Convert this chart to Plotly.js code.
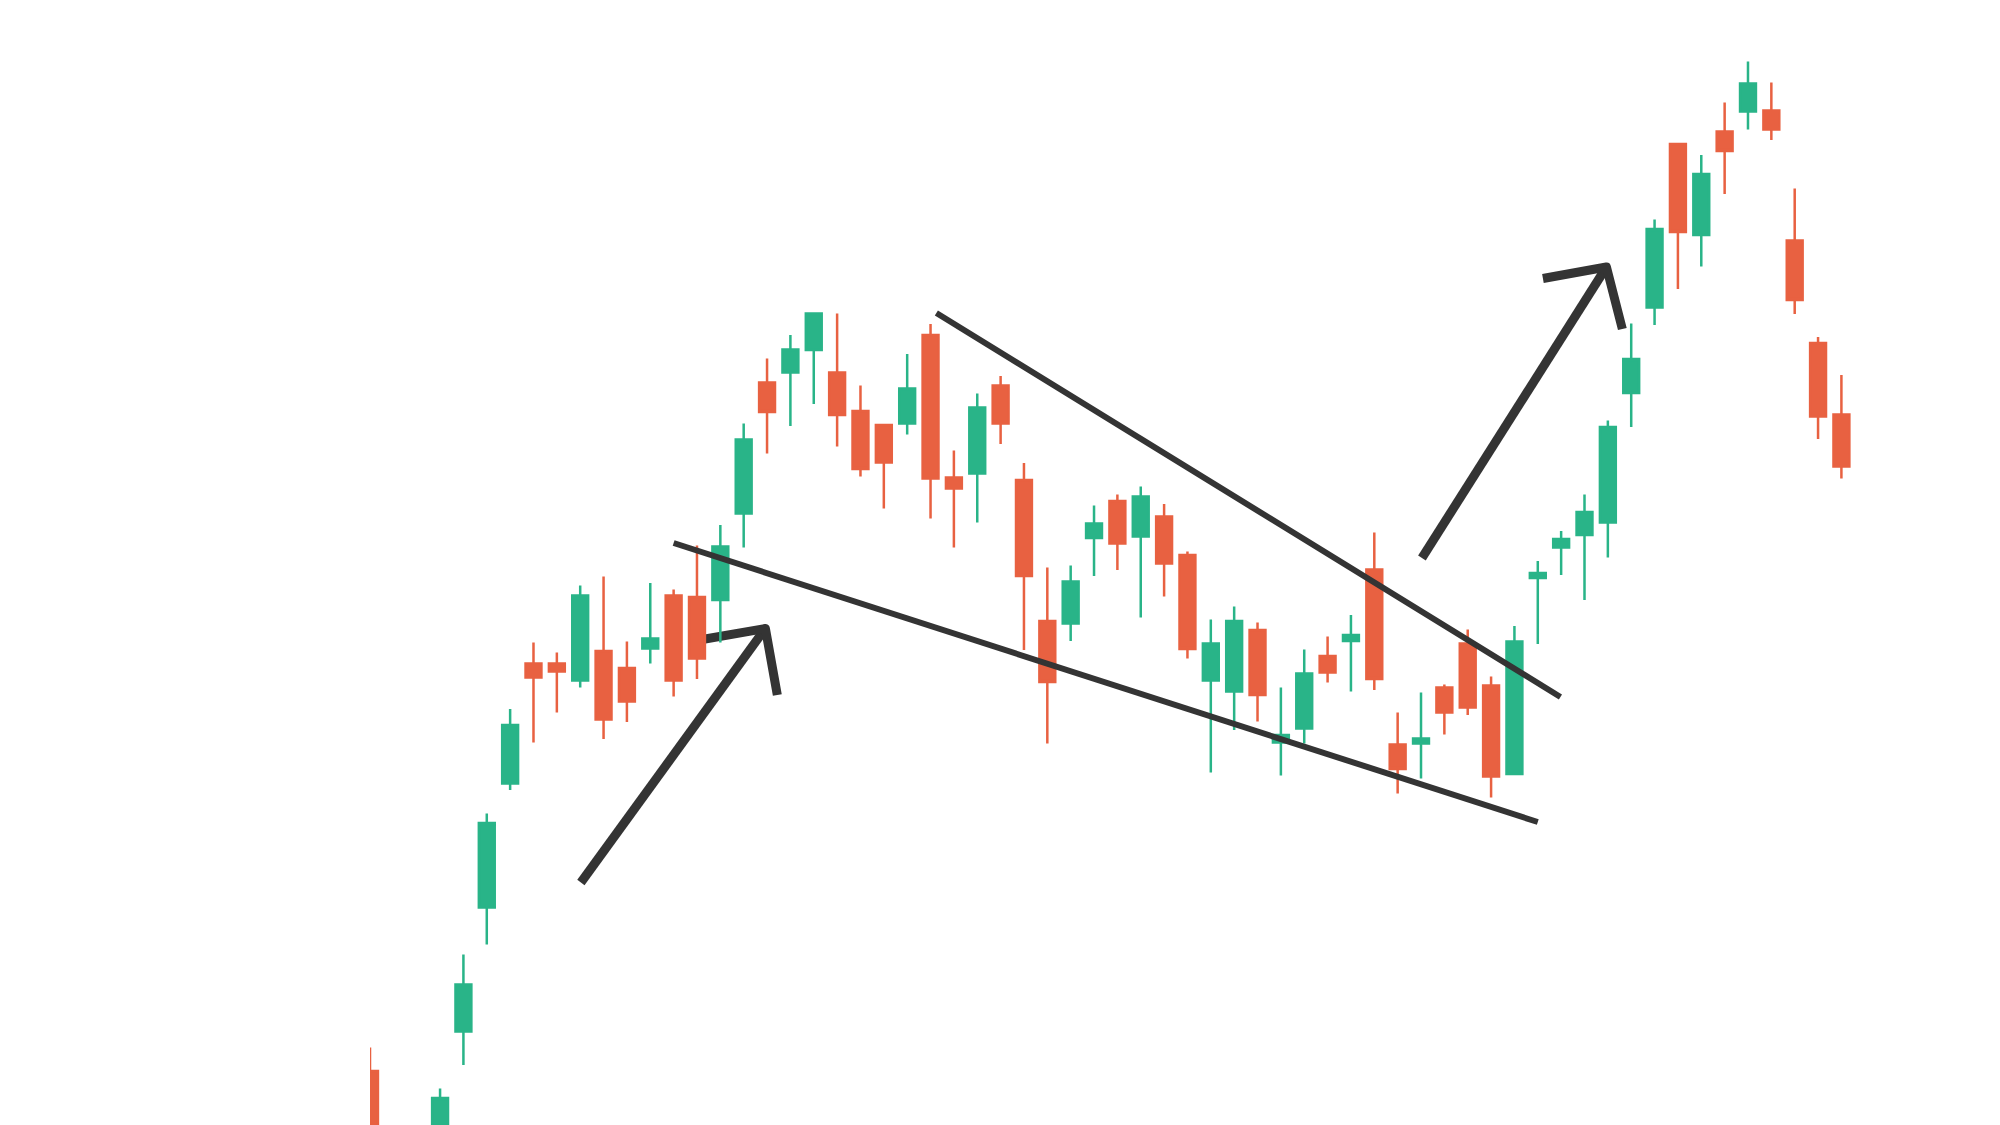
<!DOCTYPE html>
<html>
<head>
<meta charset="utf-8">
<script src="https://cdn.plot.ly/plotly-3.0.1.min.js"></script>
<style>html,body{margin:0;padding:0;background:#fff;}#chart{width:2000px;height:1125px;}</style>
</head>
<body>
<div id="chart"></div>
<script>
// Candle index (session number)
const sessions = Array.from({length: 64}, (_, i) => i);

const openPrices = [110.8, 94, 88, 92, 118.7, 143.5, 168.3, 192.3, 192.3, 188.9,
  194.8, 191.4, 195.3, 205.9, 205.6, 205.0, 222.3, 248.5, 250.5, 255.0,
  250.5, 242.8, 240.0, 240.3, 258.0, 229.5, 230.3, 247.9, 229.0, 200.8,
  200.3, 217.4, 224.8, 217.7, 221.7, 214.0, 188.9, 186.7, 199.0, 176.5,
  179.3, 193.8, 196.8, 211.1, 176.1, 176.3, 187.5, 196.3, 187.9, 170.2,
  209.4, 215.5, 218.0, 220.5, 246.4, 263.5, 296.2, 278.0, 298.7, 302.7,
  302.9, 276.9, 256.4, 242.1];

const highPrices = [115.5, 97, 96, 107.3, 134.1, 162.3, 183.2, 196.5, 194.5, 207.9,
  209.7, 196.7, 208.4, 207.1, 215.9, 220.0, 240.3, 253.3, 258.0, 262.4,
  262.3, 247.9, 240.0, 254.2, 260.2, 234.9, 246.3, 249.8, 232.4, 211.5,
  211.9, 223.9, 226.1, 227.7, 224.2, 214.7, 201.1, 203.7, 200.5, 187.5,
  195.1, 197.7, 202.0, 218.5, 182.5, 186.5, 188.1, 199.1, 189.7, 199.8,
  212.8, 218.8, 226.1, 240.9, 260.3, 281.1, 296.2, 294.0, 304.5, 312.7,
  308.5, 287.3, 257.6, 250.0];

const lowPrices = [89, 86, 85, 90, 112.0, 136.1, 167.0, 176.5, 182.5, 187.5,
  177.2, 180.6, 192.3, 185.7, 189.2, 196.5, 215.5, 234.3, 239.8, 244.2,
  235.7, 229.7, 223.3, 238.1, 221.3, 215.5, 220.5, 236.2, 195.0, 176.3,
  196.8, 209.8, 211.0, 201.5, 205.7, 193.3, 170.5, 179.0, 180.7, 169.9,
  176.3, 188.5, 186.7, 187.0, 166.3, 169.3, 178.1, 182.0, 165.5, 170.2,
  196.2, 210.0, 205.0, 213.5, 239.6, 260.0, 267.2, 271.7, 286.2, 299.1,
  297.0, 262.2, 237.2, 229.3];

const closePrices = [93, 88, 94, 105.4, 128.1, 160.4, 180.0, 189.5, 190.7, 205.9,
  181.1, 184.7, 197.3, 188.9, 193.3, 215.7, 237.1, 242.6, 255.1, 262.3,
  242.0, 231.2, 232.5, 247.3, 229.3, 227.3, 243.5, 240.3, 209.8, 188.6,
  208.7, 220.3, 216.3, 225.7, 212.3, 195.2, 196.3, 200.8, 186.0, 178.0,
  190.3, 190.5, 198.0, 189.2, 171.2, 177.3, 182.5, 183.5, 169.7, 196.7,
  210.4, 217.2, 222.6, 239.6, 253.2, 279.2, 278.6, 290.2, 294.8, 308.3,
  299.1, 265.0, 241.7, 231.7];

// Drawn pattern lines (session, price)
const upperTrendX = [24.25, 50.97], upperTrendY = [262.4, 185.6];
const lowerTrendX = [13.0, 50.0],   lowerTrendY = [216.4, 160.6];
const arrow1ShaftX = [9.03, 16.93], arrow1ShaftY = [148.5, 199.3];
const arrow1HeadX = [14.1, 16.93, 17.44], arrow1HeadY = [197.0, 199.3, 186.0];
const arrow2ShaftX = [45.04, 52.94], arrow2ShaftY = [213.4, 271.6];
const arrow2HeadX = [50.22, 52.94, 53.62], arrow2HeadY = [269.3, 271.6, 259.2];

const GREEN = '#29b488', RED = '#e86141', INK = '#343434';

function pathOf(xs, ys) {
  return xs.map((x, i) => (i ? 'L' : 'M') + x + ',' + ys[i]).join(' ');
}
function pathShape(xs, ys, width, layer) {
  return {type: 'path', xref: 'x', yref: 'y', path: pathOf(xs, ys), layer: layer,
          line: {color: INK, width: width}};
}

const trace = {
  type: 'candlestick',
  x: sessions, open: openPrices, high: highPrices, low: lowPrices, close: closePrices,
  increasing: {line: {color: GREEN, width: 2.5}, fillcolor: GREEN},
  decreasing: {line: {color: RED, width: 2.5}, fillcolor: RED},
  whiskerwidth: 0,
  hoverinfo: 'skip'
};

const layout = {
  width: 2000, height: 1125,
  margin: {l: 370, r: 0, t: 0, b: 0, pad: 0},
  paper_bgcolor: '#ffffff', plot_bgcolor: '#ffffff',
  showlegend: false,
  boxgap: 0.32, boxgroupgap: 0,
  xaxis: {range: [0, 69.79], visible: false, rangeslider: {visible: false}, fixedrange: true},
  yaxis: {range: [100, 325], visible: false, fixedrange: true},
  shapes: [
    pathShape(arrow1ShaftX, arrow1ShaftY, 9, 'below'),
    pathShape(arrow1HeadX, arrow1HeadY, 9, 'below'),
    pathShape(arrow2ShaftX, arrow2ShaftY, 9, 'below'),
    pathShape(arrow2HeadX, arrow2HeadY, 9, 'below'),
    pathShape(upperTrendX, upperTrendY, 6, 'above'),
    pathShape(lowerTrendX, lowerTrendY, 6, 'above')
  ]
};

Plotly.newPlot('chart', [trace], layout, {staticPlot: true, displayModeBar: false}).then(function () {
  document.querySelectorAll('.shapelayer path').forEach(function (p) {
    p.style.strokeLinejoin = 'round';
  });
});
</script>
</body>
</html>
